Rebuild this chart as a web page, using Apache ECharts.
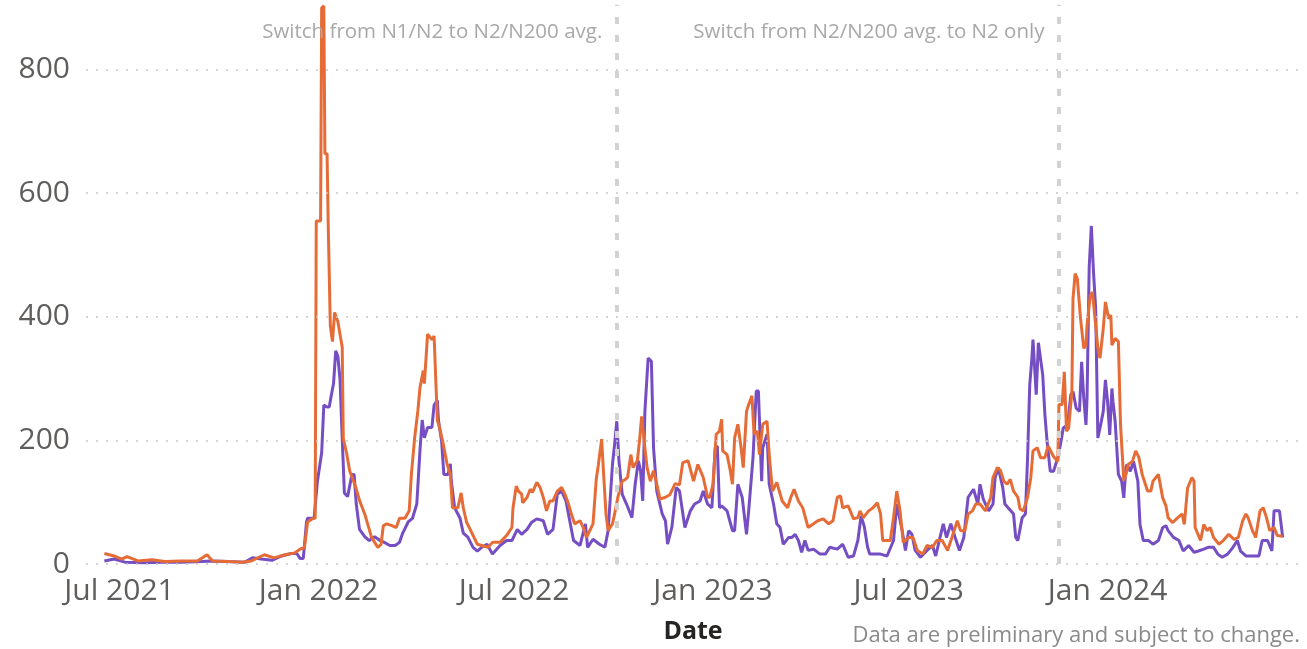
<!DOCTYPE html>
<html>
<head>
<meta charset="utf-8">
<script src="https://cdn.jsdelivr.net/npm/echarts@6/dist/echarts.min.js"></script>
<style>
html,body{margin:0;padding:0;background:#ffffff;}
#chart{width:1307px;height:649px;}
</style>
</head>
<body>
<div id="chart"></div>
<script>
// ---------- data ----------
const orangeDates = [
'2021-06-17','2021-06-26','2021-07-03','2021-07-08','2021-07-18','2021-07-31','2021-08-12','2021-08-27','2021-09-11','2021-09-20','2021-09-25','2021-10-09','2021-10-22','2021-10-31','2021-11-12','2021-11-21','2021-12-01','2021-12-10','2021-12-16','2021-12-19','2021-12-22','2021-12-27','2021-12-29','2021-12-30',
'2022-01-03','2022-01-04','2022-01-06','2022-01-07','2022-01-09','2022-01-10','2022-01-12','2022-01-14','2022-01-16','2022-01-19','2022-01-23','2022-01-24','2022-01-27','2022-01-30',
'2022-02-04','2022-02-08','2022-02-13','2022-02-16','2022-02-19','2022-02-22','2022-02-25','2022-02-28',
'2022-03-02','2022-03-05','2022-03-10','2022-03-14','2022-03-17','2022-03-22','2022-03-26','2022-03-28','2022-03-31',
'2022-04-03','2022-04-05','2022-04-08','2022-04-09','2022-04-12','2022-04-16','2022-04-18','2022-04-21','2022-04-23','2022-04-26','2022-04-30',
'2022-05-03','2022-05-05','2022-05-10','2022-05-13','2022-05-15','2022-05-18','2022-05-23','2022-05-28',
'2022-06-01','2022-06-07','2022-06-11','2022-06-18','2022-06-24','2022-06-29','2022-06-30',
'2022-07-03','2022-07-05','2022-07-08','2022-07-09','2022-07-13','2022-07-16','2022-07-18','2022-07-22','2022-07-25','2022-07-28','2022-07-31',
'2022-08-03','2022-08-06','2022-08-10','2022-08-14','2022-08-17','2022-08-20','2022-08-23','2022-08-26','2022-08-31',
'2022-09-03','2022-09-06','2022-09-09','2022-09-12','2022-09-15','2022-09-17','2022-09-20','2022-09-22','2022-09-24','2022-09-26','2022-09-30',
'2022-10-02','2022-10-05','2022-10-09','2022-10-12','2022-10-14','2022-10-17','2022-10-19','2022-10-23','2022-10-25','2022-10-27','2022-10-29',
'2022-11-01','2022-11-04','2022-11-07','2022-11-10','2022-11-13','2022-11-18','2022-11-22','2022-11-27',
'2022-12-01','2022-12-04','2022-12-09','2022-12-14','2022-12-18','2022-12-23','2022-12-27','2022-12-29',
'2023-01-01','2023-01-04','2023-01-07','2023-01-09','2023-01-10','2023-01-14','2023-01-17','2023-01-19','2023-01-21','2023-01-24','2023-01-27','2023-01-29',
'2023-02-01','2023-02-03','2023-02-06','2023-02-08','2023-02-11','2023-02-13','2023-02-16','2023-02-20','2023-02-22','2023-02-25',
'2023-03-01','2023-03-06','2023-03-11','2023-03-14','2023-03-17','2023-03-21','2023-03-25','2023-03-30',
'2023-04-04','2023-04-08','2023-04-13','2023-04-18','2023-04-22','2023-04-26','2023-04-29',
'2023-05-01','2023-05-06','2023-05-11','2023-05-15','2023-05-17','2023-05-20','2023-05-25','2023-05-29',
'2023-06-02','2023-06-05','2023-06-07','2023-06-14','2023-06-17','2023-06-20','2023-06-23','2023-06-26',
'2023-07-01','2023-07-05','2023-07-09','2023-07-14','2023-07-18','2023-07-23','2023-07-27',
'2023-08-01','2023-08-06','2023-08-10','2023-08-15','2023-08-18','2023-08-22','2023-08-25','2023-08-29',
'2023-09-01','2023-09-05','2023-09-10','2023-09-15','2023-09-17','2023-09-21','2023-09-24','2023-09-27','2023-09-30',
'2023-10-03','2023-10-06','2023-10-10','2023-10-12','2023-10-15','2023-10-19','2023-10-22','2023-10-24','2023-10-28','2023-10-31',
'2023-11-04','2023-11-07','2023-11-12','2023-11-16','2023-11-17','2023-11-20','2023-11-22','2023-11-24','2023-11-26','2023-11-29','2023-11-30',
'2023-12-02','2023-12-04','2023-12-07','2023-12-10','2023-12-12','2023-12-13','2023-12-16','2023-12-18','2023-12-21','2023-12-23','2023-12-25','2023-12-28','2023-12-30',
'2024-01-02','2024-01-04','2024-01-05','2024-01-08','2024-01-11','2024-01-13','2024-01-16','2024-01-18','2024-01-20','2024-01-24','2024-01-27','2024-01-30',
'2024-02-02','2024-02-07','2024-02-10','2024-02-12','2024-02-17','2024-02-21','2024-02-24','2024-02-26',
'2024-03-01','2024-03-06','2024-03-10','2024-03-12','2024-03-15','2024-03-19','2024-03-21','2024-03-22','2024-03-27','2024-03-30',
'2024-04-02','2024-04-05','2024-04-08','2024-04-13','2024-04-17','2024-04-22','2024-04-27',
'2024-05-01','2024-05-05','2024-05-08','2024-05-10','2024-05-14','2024-05-17','2024-05-21','2024-05-24','2024-05-27','2024-05-30',
'2024-06-03','2024-06-06','2024-06-11'
];
const orangeValues = [
17,13,8,12,5,7,4,5,5,15,5,4,3,5,15,10,15,18,25,26,68,74,74,555,
555,900,903,664,664,555,386,360,407,392,351,203,180,150,
127,103,80,62,44,35,27,32,
62,65,62,59,74,74,86,145,204,
248,286,313,292,372,363,369,233,221,198,162,
145,91,91,115,91,68,50,32,
30,27,35,35,46,59,91,
126,118,113,99,108,121,116,132,124,108,86,
102,102,118,124,113,99,81,65,70,
59,43,54,65,137,161,202,140,81,54,65,
81,108,134,137,140,177,156,167,199,239,204,
156,134,151,129,105,108,112,130,
128,164,167,134,161,140,108,108,
129,210,215,234,183,177,151,129,204,226,188,156,
247,258,272,210,215,177,226,231,177,118,
132,102,91,108,121,102,91,59,
65,70,73,65,70,108,110,
91,94,73,75,86,75,86,91,
99,81,38,38,75,118,86,35,
43,43,22,16,30,27,38,
38,22,43,70,54,54,81,86,
97,97,86,108,140,156,151,134,129,
137,118,108,89,86,108,140,183,188,172,
172,191,174,166,258,258,311,215,220,279,429,
470,462,397,349,354,386,435,440,386,349,333,381,424,
397,403,354,365,360,225,135,145,161,166,183,172,
145,118,118,134,145,107,94,75,
67,75,81,64,123,140,134,59,38,64,
54,59,43,32,38,48,40,
43,70,81,75,54,43,86,91,75,54,
59,46,45
];
const purpleDates = [
'2021-06-17','2021-06-26','2021-07-06','2021-07-24','2021-08-09','2021-08-27','2021-09-15','2021-09-24','2021-10-09','2021-10-25','2021-11-01','2021-11-09','2021-11-19','2021-11-28','2021-12-07','2021-12-12','2021-12-15','2021-12-18','2021-12-21','2021-12-22','2021-12-28','2021-12-31',
'2022-01-04','2022-01-06','2022-01-09','2022-01-11','2022-01-13','2022-01-15','2022-01-17','2022-01-19','2022-01-21','2022-01-23','2022-01-25','2022-01-28',
'2022-02-01','2022-02-03','2022-02-05','2022-02-08','2022-02-13','2022-02-17','2022-02-22','2022-02-27',
'2022-03-03','2022-03-08','2022-03-13','2022-03-17','2022-03-20','2022-03-25','2022-03-29',
'2022-04-02','2022-04-05','2022-04-07','2022-04-09','2022-04-12','2022-04-16','2022-04-18','2022-04-21','2022-04-22','2022-04-25','2022-04-27',
'2022-05-01','2022-05-03','2022-05-04','2022-05-07','2022-05-12','2022-05-15','2022-05-19','2022-05-24','2022-05-28',
'2022-06-01','2022-06-06','2022-06-11','2022-06-18','2022-06-24','2022-06-29',
'2022-07-04','2022-07-08','2022-07-13','2022-07-17','2022-07-22','2022-07-28',
'2022-08-01','2022-08-06','2022-08-10','2022-08-14','2022-08-18','2022-08-22','2022-08-25','2022-08-31',
'2022-09-05','2022-09-07','2022-09-12','2022-09-18','2022-09-23','2022-09-26','2022-09-30',
'2022-10-02','2022-10-04','2022-10-06','2022-10-09','2022-10-13','2022-10-18','2022-10-21','2022-10-24','2022-10-26','2022-10-28','2022-10-30',
'2022-11-02','2022-11-05','2022-11-07','2022-11-10','2022-11-15','2022-11-18','2022-11-20','2022-11-24','2022-11-28',
'2022-12-01','2022-12-06','2022-12-11','2022-12-15','2022-12-20','2022-12-23','2022-12-27','2022-12-31',
'2023-01-03','2023-01-05','2023-01-07','2023-01-09','2023-01-14','2023-01-19','2023-01-21','2023-01-24','2023-01-28',
'2023-02-01','2023-02-03','2023-02-07','2023-02-10','2023-02-12','2023-02-15','2023-02-16','2023-02-20','2023-02-22','2023-02-26',
'2023-03-01','2023-03-04','2023-03-07','2023-03-12','2023-03-15','2023-03-18','2023-03-21','2023-03-24','2023-03-27','2023-03-30',
'2023-04-04','2023-04-10','2023-04-15','2023-04-19','2023-04-26',
'2023-05-01','2023-05-06','2023-05-11','2023-05-15','2023-05-18','2023-05-21','2023-05-24','2023-05-26',
'2023-06-05','2023-06-11','2023-06-17','2023-06-20','2023-06-25','2023-06-28',
'2023-07-01','2023-07-04','2023-07-07','2023-07-12','2023-07-18','2023-07-23','2023-07-26','2023-07-30',
'2023-08-02','2023-08-05','2023-08-09','2023-08-13','2023-08-17','2023-08-21','2023-08-25','2023-08-30',
'2023-09-03','2023-09-05','2023-09-08','2023-09-13','2023-09-17','2023-09-19','2023-09-22','2023-09-26','2023-09-28',
'2023-10-01','2023-10-06','2023-10-08','2023-10-10','2023-10-14','2023-10-17','2023-10-19','2023-10-21','2023-10-23','2023-10-24','2023-10-27','2023-10-29',
'2023-11-02','2023-11-04','2023-11-06','2023-11-09','2023-11-12','2023-11-14','2023-11-16','2023-11-19','2023-11-21','2023-11-25','2023-11-28','2023-11-30',
'2023-12-03','2023-12-06','2023-12-08','2023-12-10','2023-12-12','2023-12-13','2023-12-15','2023-12-17','2023-12-19','2023-12-21','2023-12-23','2023-12-25','2023-12-28','2023-12-30',
'2024-01-01','2024-01-03','2024-01-05','2024-01-06','2024-01-08','2024-01-11','2024-01-14','2024-01-16','2024-01-18','2024-01-19','2024-01-22','2024-01-25','2024-01-29','2024-01-31',
'2024-02-03','2024-02-08','2024-02-12','2024-02-17','2024-02-21','2024-02-24','2024-02-26',
'2024-03-02','2024-03-07','2024-03-11','2024-03-16','2024-03-21','2024-03-25','2024-03-30',
'2024-04-03','2024-04-08','2024-04-12','2024-04-16','2024-04-21','2024-04-26','2024-04-30',
'2024-05-03','2024-05-08','2024-05-14','2024-05-20','2024-05-23','2024-05-28',
'2024-06-01','2024-06-03','2024-06-08','2024-06-11'
];
const purpleValues = [
5,8,3,2,3,3,4,5,4,3,10,8,6,13,17,17,9,9,68,74,74,133,
180,257,254,254,274,292,345,336,298,204,115,109,
145,145,97,56,44,38,44,38,
35,30,30,35,50,68,74,
97,186,233,204,221,221,257,265,233,198,145,
145,162,133,91,74,50,44,27,21,
27,32,16,30,38,38,
56,48,56,67,73,70,
48,56,113,118,102,65,38,30,
65,27,40,32,27,54,161,
194,231,167,113,97,75,129,167,151,102,247,
333,328,188,118,81,70,32,60,124,
118,59,86,97,102,118,97,91,
188,191,91,94,86,54,54,129,108,
48,86,172,280,280,134,188,210,129,97,
65,59,32,43,43,48,38,19,38,22,
24,16,16,27,24,
32,11,13,38,78,60,27,16,
16,13,38,97,54,22,
54,48,22,11,22,30,13,43,
65,43,65,43,22,43,108,121,
97,129,105,86,97,140,156,124,97,
91,81,43,38,75,81,172,290,333,363,274,358,
306,242,199,150,150,161,172,199,220,225,274,279,
252,247,327,268,225,268,480,547,472,413,204,220,247,298,
263,209,284,263,231,145,134,107,156,161,150,166,134,64,
38,38,32,38,59,62,54,
43,38,21,30,19,21,24,
27,27,16,11,16,27,38,
21,13,13,13,38,38,
21,86,86,43
];

const yTicks = [0, 200, 400, 600, 800];
const xTickDates = ['2021-07-01', '2022-01-01', '2022-07-01', '2023-01-01', '2023-07-01', '2024-01-01'];
const xTickLabels = ['Jul 2021', 'Jan 2022', 'Jul 2022', 'Jan 2023', 'Jul 2023', 'Jan 2024'];
const switchDates = ['2022-10-04', '2023-11-17'];
const switchLabels = ['Switch from N1/N2 to N2/N200 avg.', 'Switch from N2/N200 avg. to N2 only'];
const switchLabelLevel = 861;
const axisTitle = 'Date';
const footnote = 'Data are preliminary and subject to change.';

// ---------- chart ----------
const FONT = "'Open Sans', 'Noto Sans', sans-serif";
function pad(n) { return (n < 10 ? '0' : '') + n; }
function ymd(ts) {
  const d = new Date(ts);
  return d.getFullYear() + '-' + pad(d.getMonth() + 1) + '-' + pad(d.getDate());
}

const chart = echarts.init(document.getElementById('chart'), null, { renderer: 'canvas' });

const option = {
  animation: false,
  backgroundColor: '#ffffff',
  title: {
    text: footnote,
    right: 7,
    top: 625,
    padding: 0,
    textStyle: { fontFamily: FONT, fontSize: 22, fontWeight: 'normal', color: '#8a8a8a' }
  },
  grid: { left: 86, right: 7, top: 4.7, bottom: 82.3, containLabel: false },
  xAxis: {
    type: 'time',
    min: '2021-05-31',
    max: '2024-06-27',
    splitNumber: 8,
    axisLine: { show: false },
    axisTick: { show: false },
    splitLine: { show: false },
    axisLabel: {
      fontFamily: FONT,
      fontSize: 30,
      color: '#605e5c',
      margin: 12,
      hideOverlap: false,
      formatter: function (value) {
        const i = xTickDates.indexOf(ymd(value));
        return i >= 0 ? xTickLabels[i] : '';
      }
    },
    name: axisTitle,
    nameLocation: 'middle',
    nameGap: 55,
    nameTextStyle: { fontFamily: FONT, fontSize: 25, fontWeight: 'bold', color: '#252423' }
  },
  yAxis: {
    type: 'value',
    min: 0,
    max: 905,
    interval: 200,
    axisLine: { show: false },
    axisTick: { show: false },
    splitLine: { show: false },
    axisLabel: {
      fontFamily: FONT,
      fontSize: 30,
      color: '#605e5c',
      margin: 16,
      formatter: function (v) { return yTicks.indexOf(v) >= 0 ? String(v) : ''; }
    }
  },
  series: [
    {
      name: 'guides',
      type: 'line',
      data: [],
      silent: true,
      z: 1,
      markLine: {
        silent: true,
        symbol: 'none',
        animation: false,
        label: { show: false },
        data: yTicks.map(function (v) {
          return { yAxis: v, lineStyle: { type: [2, 8], color: '#c8c8c8', width: 1.6 } };
        }).concat(switchDates.map(function (d) {
          return { xAxis: d, lineStyle: { type: [7, 11], color: '#d2d2d2', width: 4 } };
        }))
      },
      markPoint: {
        silent: true,
        animation: false,
        data: switchDates.map(function (d, i) {
          return {
            coord: [d, switchLabelLevel],
            symbol: 'circle',
            symbolSize: 1,
            itemStyle: { color: 'rgba(0,0,0,0)' },
            label: {
              show: true,
              position: 'left',
              distance: 14,
              formatter: switchLabels[i],
              fontFamily: FONT,
              fontSize: 20.5,
              color: '#a8a8a8'
            }
          };
        })
      }
    },
    {
      name: 'Series 2',
      type: 'line',
      data: purpleDates.map(function (d, i) { return [d, purpleValues[i]]; }),
      showSymbol: false,
      symbol: 'none',
      clip: false,
      z: 2,
      lineStyle: { width: 3, color: '#744ec2' },
      itemStyle: { color: '#744ec2' }
    },
    {
      name: 'Series 1',
      type: 'line',
      data: orangeDates.map(function (d, i) { return [d, orangeValues[i]]; }),
      showSymbol: false,
      symbol: 'none',
      clip: false,
      z: 3,
      lineStyle: { width: 3, color: '#e66c37' },
      itemStyle: { color: '#e66c37' }
    }
  ]
};
chart.setOption(option);
if (orangeDates.length !== orangeValues.length || purpleDates.length !== purpleValues.length) {
  console.error('length mismatch', orangeDates.length, orangeValues.length, purpleDates.length, purpleValues.length);
}
</script>
</body>
</html>
